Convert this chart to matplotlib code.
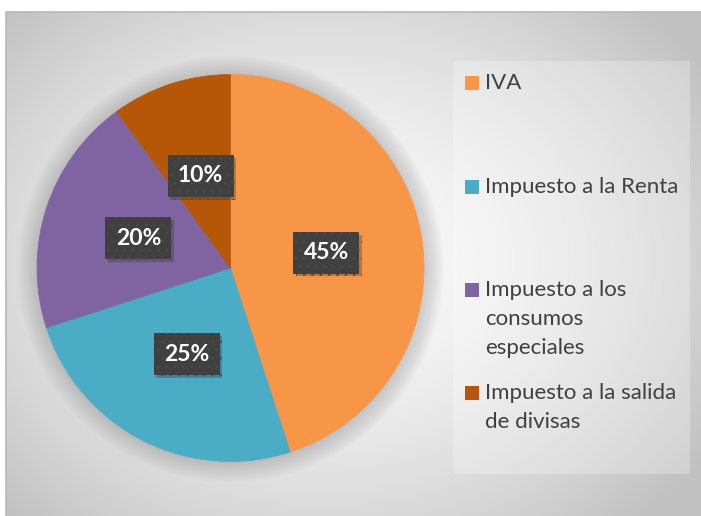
import numpy as np
import matplotlib.pyplot as plt
import matplotlib.patheffects as pe
from matplotlib.patches import Rectangle, Circle

plt.rcParams['font.family'] = ['Lato', 'DejaVu Sans']
plt.rcParams['hatch.linewidth'] = 0.6

categorias = ['IVA', 'Impuesto a la Renta', 'Impuesto a los\nconsumos\nespeciales',
              'Impuesto a la salida\nde divisas']
valores = [45, 25, 20, 10]
colores = ['#F79646', '#4BACC6', '#8064A2', '#B65708']

W, H = 701, 516
fig = plt.figure(figsize=(W / 100, H / 100), dpi=100)
fig.patch.set_facecolor('white')

# fondo con degradado radial (area del grafico)
bx0, by_top = 6, 12
bg = fig.add_axes([bx0 / W, 0, (W - bx0) / W, (H - by_top) / H])
bg.set_axis_off()
gx, gy = np.meshgrid(np.linspace(0, W - bx0, 300), np.linspace(0, H - by_top, 220))
d = np.sqrt(((gx - 320) / 420) ** 2 + ((gy - 250) / 330) ** 2)
g = np.clip(0.985 - 0.2 * d ** 1.6, 0.76, 1)
bg.imshow(np.dstack([g, g, g]), extent=[0, 1, 0, 1], aspect='auto', origin='upper')
bg.set_xlim(0, 1)
bg.set_ylim(0, 1)
bg.plot([0, 0, 1], [0, 1, 1], color='#b8b8b8', lw=1.2, transform=bg.transAxes, clip_on=False)

# caja de la leyenda
bg.add_patch(Rectangle(((453 - bx0) / (W - bx0), 1 - (474 - by_top) / (H - by_top)),
                       (690 - 453) / (W - bx0), (474 - 61) / (H - by_top),
                       facecolor='white', alpha=0.25, lw=0))

# pastel
cx, cy, R = 230.5, 268, 193.5
ax = fig.add_axes([(cx - 220) / W, (H - cy - 220) / H, 440 / W, 440 / H])
ax.set_axis_off()

for k in range(12):
    ax.add_patch(Circle((0, -1), R + 1 + k * 1.7, facecolor='#707070', alpha=0.028, lw=0, zorder=0))

wedges, _, autot = ax.pie(valores, colors=colores, startangle=90, counterclock=False,
                          radius=R, autopct='%1.0f%%', pctdistance=0.5,
                          wedgeprops=dict(linewidth=0.5),
                          textprops=dict(color='white', fontsize=16.5, fontweight='bold'))
ax.set_xlim(-220, 220)
ax.set_ylim(-220, 220)
for w in wedges:
    w.set_edgecolor(w.get_facecolor())

# cajas de las etiquetas con sombra
for t in autot:
    t.set_bbox(dict(boxstyle='square,pad=0.45', facecolor='#404040', edgecolor='#4b4b4b',
                    linewidth=0, hatch='..',
                    path_effects=[pe.SimplePatchShadow(offset=(2, -2), shadow_rgbFace='#303030',
                                                       alpha=0.3),
                                  pe.Normal()]))

# leyenda
ys = [83, 187, 290, 393]
for nombre, col, y in zip(categorias, colores, ys):
    fig.patches.append(Rectangle((465 / W, (H - y - 7) / H), 14 / W, 14 / H,
                                 facecolor=col, lw=0, transform=fig.transFigure))
    for i, linea in enumerate(nombre.split('\n')):
        fig.text(485 / W, (H - y - i * 29) / H, linea, fontsize=16, color='#404040',
                 va='center', ha='left')

fig.savefig('out.png', dpi=100)
